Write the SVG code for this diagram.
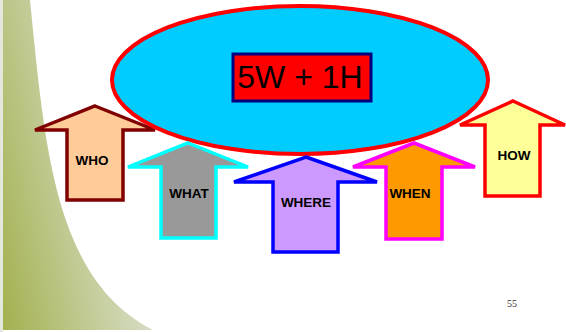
<svg xmlns="http://www.w3.org/2000/svg" width="566" height="332" viewBox="0 0 566 332">
<defs>
<linearGradient id="g" gradientUnits="userSpaceOnUse" x1="0" y1="330" x2="144" y2="300">
<stop offset="0" stop-color="#a2b04c"/>
<stop offset="1" stop-color="#d6dcc4"/>
</linearGradient>
<style>
.lbl{font-family:"Liberation Sans",Arial,sans-serif;font-weight:bold;font-size:13.5px;fill:#000;text-anchor:middle}
.arr{stroke-width:3.5;stroke-linejoin:miter}
</style>
</defs>
<rect width="566" height="332" fill="#ffffff"/>
<rect x="0" y="0" width="3" height="332" fill="#e4e8dc"/>
<path d="M3,0 L30,0 C45,150 55,280 153,330 L3,330 Z" fill="url(#g)"/>
<g id="who">
<path class="arr" d="M95,106 L155,130 L123,130 L123,200 L67,200 L67,130 L35,130 Z" fill="#ffcc99" stroke="#800000"/>
<text class="lbl" x="92" y="165">WHO</text>
</g>
<g id="how">
<path class="arr" d="M513,101 L565,125 L540,125 L540,196 L485,196 L485,125 L460,125 Z" fill="#ffff99" stroke="#ff0000"/>
<text class="lbl" x="514" y="160">HOW</text>
</g>
<g id="center">
<ellipse cx="300" cy="80" rx="188" ry="74" fill="#00ccff" stroke="#ff0000" stroke-width="4"/>
<rect x="233" y="54" width="138" height="47" fill="#ff0000" stroke="#000080" stroke-width="3"/>
<text x="300" y="88" font-family="Liberation Sans, Arial, sans-serif" font-size="32" text-anchor="middle" fill="#000">5W + 1H</text>
</g>
<g id="what">
<path class="arr" d="M188,143 L248,167 L216,167 L216,238 L161,238 L161,167 L128,167 Z" fill="#999999" stroke="#00ffff"/>
<text class="lbl" x="189" y="198">WHAT</text>
</g>
<g id="where">
<path class="arr" d="M306,157 L377,182 L338,182 L338,252 L273,252 L273,182 L234,182 Z" fill="#cc99ff" stroke="#0000ff"/>
<text class="lbl" x="306" y="207">WHERE</text>
</g>
<g id="when">
<path class="arr" d="M414,143 L475,167 L442,167 L442,239 L386,239 L386,167 L353,167 Z" fill="#ff9900" stroke="#ff00ff"/>
<text class="lbl" x="410" y="198">WHEN</text>
</g>
<g id="connectors"></g>
<text x="512" y="307" font-family="Liberation Serif, Times New Roman, serif" font-size="10" fill="#333" text-anchor="middle">55</text>
</svg>
